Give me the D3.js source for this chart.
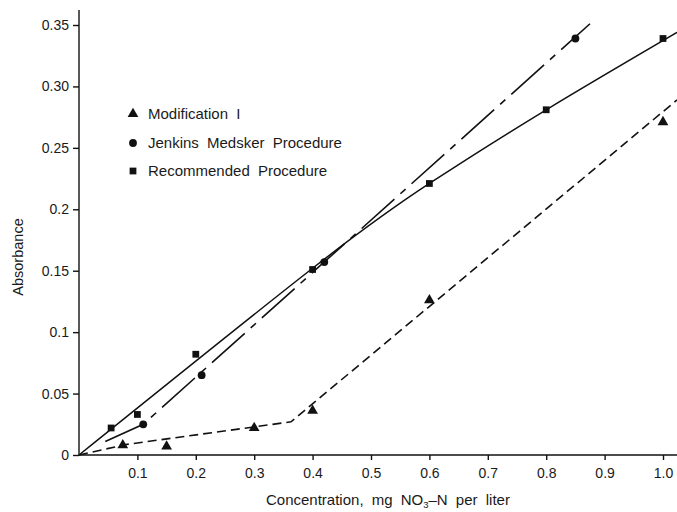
<!DOCTYPE html>
<html>
<head>
<meta charset="utf-8">
<script src="https://cdn.jsdelivr.net/npm/d3@7"></script>
<style>
  body { margin: 0; background: #fff; }
  text { font-family: "Liberation Sans", Arial, sans-serif; fill: #1a1a1a; }
  .axis path, .axis line { stroke: #111; stroke-width: 1.4; }
  .axis text { font-size: 14px; }
</style>
</head>
<body>
<div id="graph"></div>
<script>
// measured points
var modX = [0.075, 0.15, 0.30, 0.40, 0.60, 1.00];
var modY = [0.008, 0.007, 0.022, 0.036, 0.126, 0.271];
var jenX = [0.11, 0.21, 0.42, 0.85];
var jenY = [0.025, 0.065, 0.157, 0.339];
var recX = [0.055, 0.10, 0.20, 0.40, 0.60, 0.80, 1.00];
var recY = [0.022, 0.033, 0.082, 0.151, 0.221, 0.281, 0.339];

// drawn fit lines
var recFitX = [0, 0.4, 0.6, 0.8, 1.024];
var recFitY = [0, 0.152, 0.221, 0.281, 0.344];
var jenFitX = [0.045, 0.11, 0.875];
var jenFitY = [0.011, 0.025, 0.351];
var modFitX = [0, 0.08, 0.363, 1.024];
var modFitY = [0, 0.0085, 0.027, 0.289];

var xTicks = [0.1, 0.2, 0.3, 0.4, 0.5, 0.6, 0.7, 0.8, 0.9, 1.0];
var yTicks = [0, 0.05, 0.1, 0.15, 0.2, 0.25, 0.30, 0.35];
var yTickLabels = ["0", "0.05", "0.1", "0.15", "0.2", "0.25", "0.30", "0.35"];

var legendNames = ["Modification I", "Jenkins Medsker Procedure", "Recommended Procedure"];

var width = 677, height = 512;

var svg = d3.select("#graph").append("svg")
    .attr("width", width)
    .attr("height", height);

var x = d3.scaleLinear().domain([0, 1]).range([79, 663]);
var y = d3.scaleLinear().domain([0, 0.35]).range([455, 25]);

function zip(a, b) { return a.map(function(d, i) { return [d, b[i]]; }); }

// axes
svg.append("g").attr("class", "axis")
    .attr("transform", "translate(0,455)")
    .call(d3.axisBottom(x).tickValues(xTicks).tickSize(5).tickPadding(8)
        .tickFormat(d3.format(".1f")))
    .select(".domain").remove();

svg.append("g").attr("class", "axis")
    .attr("transform", "translate(79,0)")
    .call(d3.axisLeft(y).tickValues(yTicks).tickSize(6).tickPadding(4)
        .tickFormat(function(d, i) { return yTickLabels[i]; }))
    .select(".domain").remove();

svg.append("line").attr("x1", 79).attr("x2", 79).attr("y1", 455).attr("y2", 10)
    .attr("stroke", "#111").attr("stroke-width", 1.4);
svg.append("line").attr("x1", 79).attr("x2", 677).attr("y1", 455).attr("y2", 455)
    .attr("stroke", "#111").attr("stroke-width", 1.4);

// titles
svg.append("text")
    .attr("transform", "translate(23,257) rotate(-90)")
    .attr("text-anchor", "middle")
    .style("font-size", "14.5px")
    .text("Absorbance");

var xt = svg.append("text")
    .attr("x", 266).attr("y", 505)
    .style("font-size", "15px")
    .style("word-spacing", "4px");
xt.append("tspan").text("Concentration, mg NO");
xt.append("tspan").attr("dy", 3).style("font-size", "9.5px").text("3");
xt.append("tspan").attr("dy", -3).text("\u2013N per liter");

// fit lines
var line = d3.line()
    .x(function(d) { return x(d[0]); })
    .y(function(d) { return y(d[1]); });

var curve = d3.line()
    .x(function(d) { return x(d[0]); })
    .y(function(d) { return y(d[1]); })
    .curve(d3.curveNatural);

svg.append("path").datum(zip(recFitX, recFitY))
    .attr("d", curve).attr("fill", "none")
    .attr("stroke", "#111").attr("stroke-width", 1.5);

svg.append("path").datum(zip(jenFitX, jenFitY))
    .attr("d", line).attr("fill", "none")
    .attr("stroke", "#111").attr("stroke-width", 1.6)
    .attr("stroke-dasharray", "44,8,7,8");

svg.append("path").datum(zip(modFitX, modFitY))
    .attr("d", line).attr("fill", "none")
    .attr("stroke", "#111").attr("stroke-width", 1.6)
    .attr("stroke-dasharray", "9,5");

// markers
var tri = d3.symbol().type(d3.symbolTriangle).size(50);
var circ = d3.symbol().type(d3.symbolCircle).size(48);
var sq = d3.symbol().type(d3.symbolSquare).size(46);

function drawMarks(xs, ys, sym) {
    svg.append("g").selectAll("path")
        .data(zip(xs, ys))
        .enter().append("path")
        .attr("d", sym)
        .attr("fill", "#111")
        .attr("transform", function(d) { return "translate(" + x(d[0]) + "," + y(d[1]) + ")"; });
}
drawMarks(modX, modY, tri);
drawMarks(jenX, jenY, circ);
drawMarks(recX, recY, sq);

// legend
var syms = [tri, circ, sq];
var legendY = [114, 143, 171];
var legend = svg.append("g").selectAll("g")
    .data(legendNames)
    .enter().append("g")
    .attr("transform", function(d, i) { return "translate(133," + legendY[i] + ")"; });
legend.append("path")
    .attr("d", function(d, i) { return syms[i](); })
    .attr("fill", "#111");
legend.append("text")
    .attr("x", 15).attr("y", 5)
    .style("font-size", "15px")
    .style("word-spacing", "4px")
    .text(function(d) { return d; });
</script>
</body>
</html>
